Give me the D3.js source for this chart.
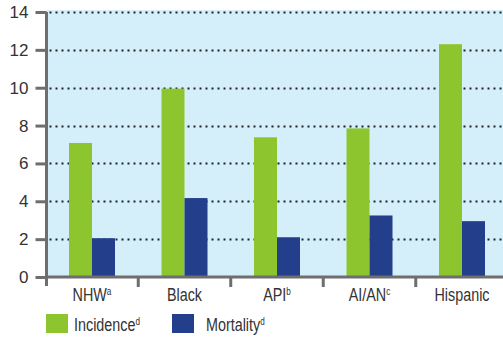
<!DOCTYPE html>
<html><head><meta charset="utf-8">
<script src="https://cdn.jsdelivr.net/npm/d3@7"></script>
<style>
html,body{margin:0;padding:0;background:#fff;}
svg{display:block;}
text{font-family:"Liberation Sans",Arial,sans-serif;fill:#333;}
</style></head>
<body>
<svg id="chart" width="503" height="339"></svg>
<script>
const categories = ["NHW", "Black", "API", "AI/AN", "Hispanic"];
const categorySup = ["a", "", "b", "c", ""];
const seriesNames = ["Incidence", "Mortality"];
const seriesSup = ["d", "d"];
const incidence = [7.08, 9.95, 7.38, 7.85, 12.3];
const mortality = [2.05, 4.17, 2.1, 3.25, 2.95];
const yTicks = [0, 2, 4, 6, 8, 10, 12, 14];
const colors = ["#8dc52e", "#233e8b"];

(function () {
const svg = d3.select("#chart");
const mLeft = 46.5, mTop = 12, mBottom = 277, plotRight = 503;
const x = d3.scaleBand().domain(categories).range([45.75, 508.25]).paddingInner(0).paddingOuter(0);
const y = d3.scaleLinear().domain([0, 14]).range([mBottom, mTop]);
const barW = 23;
const squeeze = 0.82;

svg.append("rect").attr("x", mLeft).attr("y", mTop - 2).attr("width", plotRight - mLeft).attr("height", mBottom - mTop + 2).attr("fill", "#d4eefa");

svg.append("g").selectAll("line").data(yTicks.filter(d => d > 0)).join("line")
  .attr("x1", mLeft + 3).attr("x2", plotRight)
  .attr("y1", d => Math.round(y(d)) + 0.5).attr("y2", d => Math.round(y(d)) + 0.5)
  .attr("stroke", "#222").attr("stroke-width", 2).attr("stroke-dasharray", "2,4");

const series = [incidence, mortality];
series.forEach((vals, si) => {
  svg.append("g").selectAll("rect").data(categories).join("rect")
    .attr("x", (d) => x(d) + x.bandwidth() / 2 - barW + si * barW)
    .attr("y", (d, i) => y(vals[i]))
    .attr("width", barW)
    .attr("height", (d, i) => mBottom - y(vals[i]))
    .attr("fill", colors[si]);
});

const yAxis = svg.append("g").attr("transform", `translate(${mLeft},0)`)
  .call(d3.axisLeft(y).tickValues(yTicks).tickSize(11).tickPadding(7));
yAxis.select(".domain").attr("d", `M0,${mTop}V286`).attr("stroke", "#6e6e6e").attr("stroke-width", 3);
yAxis.selectAll(".tick line").attr("stroke", "#6e6e6e").attr("stroke-width", 3);
yAxis.selectAll(".tick text").attr("fill", "#333")
  .style("font-family", '"Liberation Sans", Arial, sans-serif').attr("font-size", 17);

const xAxis = svg.append("g").attr("transform", `translate(0,${mBottom})`);
xAxis.append("line").attr("x1", mLeft).attr("x2", plotRight).attr("y1", 0).attr("y2", 0)
  .attr("stroke", "#6e6e6e").attr("stroke-width", 3);
xAxis.selectAll(".sep").data(categories.slice(1)).join("line").attr("class", "sep")
  .attr("x1", d => x(d)).attr("x2", d => x(d)).attr("y1", 0).attr("y2", 10)
  .attr("stroke", "#6e6e6e").attr("stroke-width", 3);
const lblG = xAxis.selectAll(".lbl").data(categories).join("g").attr("class", "lbl")
  .attr("transform", d => `translate(${x(d) + x.bandwidth() / 2},24) scale(${squeeze},1)`);
const lbl = lblG.append("text").attr("text-anchor", "middle").attr("font-size", 17.5);
lbl.append("tspan").text(d => d);
lbl.append("tspan").text((d, i) => categorySup[i]).attr("font-size", 10).attr("dy", -6);

const legendX = [46, 172];
seriesNames.forEach((s, i) => {
  const g = svg.append("g").attr("transform", `translate(${legendX[i]},314)`);
  g.append("rect").attr("width", 22).attr("height", 19).attr("fill", colors[i]);
  const t = g.append("g").attr("transform", `translate(${i === 0 ? 28 : 34},16.5) scale(${squeeze},1)`)
    .append("text").attr("font-size", 17.5);
  t.append("tspan").text(s);
  t.append("tspan").text(seriesSup[i]).attr("font-size", 10).attr("dy", -6);
});
})();
</script>
</body></html>
